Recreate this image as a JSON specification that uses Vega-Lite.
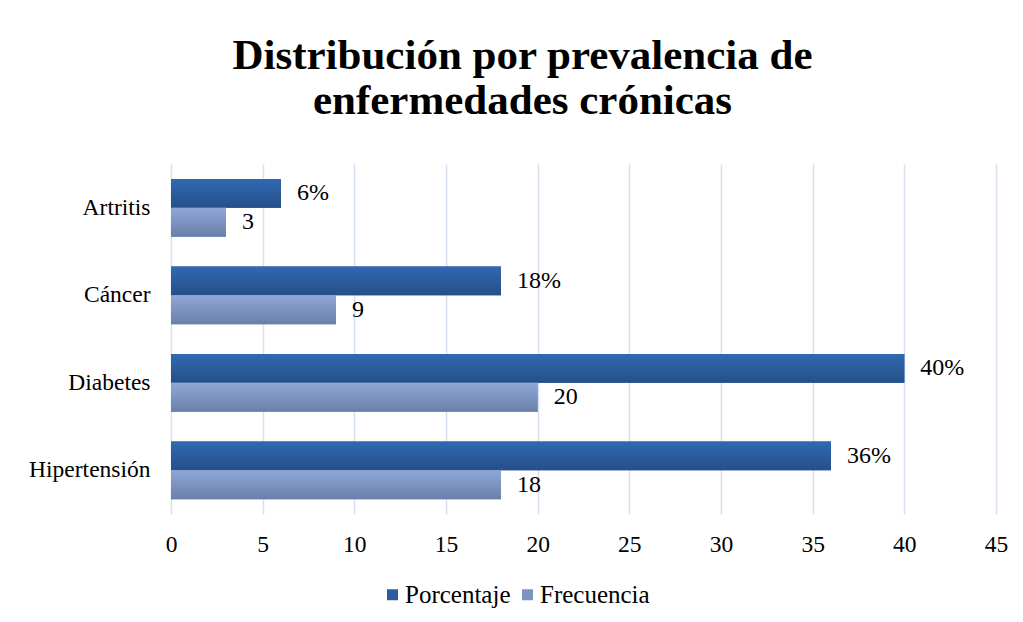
{
  "$schema": "https://vega.github.io/schema/vega-lite/v6.json",
  "width": 825,
  "height": 350,
  "autosize": {"type": "none"},
  "padding": {"left": 171, "top": 164, "right": 27, "bottom": 108},
  "background": "white",
  "config": {"view": {"stroke": null}},
  "title": {
    "text": ["Distribución por prevalencia de", "enfermedades crónicas"],
    "font": "Liberation Serif",
    "fontSize": 43,
    "fontWeight": "bold",
    "color": "black",
    "lineHeight": 45,
    "anchor": "middle",
    "dx": -61,
    "offset": 41
  },
  "data": {
    "values": [
      {"cat": "Artritis", "serie": "Porcentaje", "value": 6, "label": "6%"},
      {"cat": "Artritis", "serie": "Frecuencia", "value": 3, "label": "3"},
      {"cat": "Cáncer", "serie": "Porcentaje", "value": 18, "label": "18%"},
      {"cat": "Cáncer", "serie": "Frecuencia", "value": 9, "label": "9"},
      {"cat": "Diabetes", "serie": "Porcentaje", "value": 40, "label": "40%"},
      {"cat": "Diabetes", "serie": "Frecuencia", "value": 20, "label": "20"},
      {"cat": "Hipertensión", "serie": "Porcentaje", "value": 36, "label": "36%"},
      {"cat": "Hipertensión", "serie": "Frecuencia", "value": 18, "label": "18"}
    ]
  },
  "encoding": {
    "y": {
      "field": "cat", "type": "nominal", "sort": null, "title": null,
      "scale": {"paddingInner": 0.34, "paddingOuter": 0.17},
      "axis": {"domain": false, "ticks": false, "labelFont": "Liberation Serif", "labelFontSize": 23.5, "labelColor": "black", "labelPadding": 21}
    },
    "yOffset": {"field": "serie", "type": "nominal", "scale": {"domain": ["Porcentaje", "Frecuencia"], "paddingInner": 0, "paddingOuter": 0}},
    "x": {
      "field": "value", "type": "quantitative", "title": null,
      "scale": {"domain": [0, 45], "nice": false},
      "axis": {"values": [0, 5, 10, 15, 20, 25, 30, 35, 40, 45], "domain": false, "ticks": false, "grid": true, "gridColor": "#d5e0f0", "gridWidth": 1.5, "labelFlush": false, "labelFont": "Liberation Serif", "labelFontSize": 23.5, "labelColor": "black", "labelPadding": 18}
    }
  },
  "layer": [
    {
      "mark": {"type": "bar"},
      "encoding": {
        "color": {
          "field": "serie", "type": "nominal",
          "scale": {"domain": ["Porcentaje", "Frecuencia"], "range": ["#2c5e9f", "#7d93c0"]},
          "legend": {"title": null, "orient": "none", "legendX": 209, "legendY": 418, "direction": "horizontal", "symbolType": "square", "symbolSize": 121, "symbolStrokeWidth": 0, "labelFont": "Liberation Serif", "labelFontSize": 25, "labelColor": "black", "columnPadding": 4, "labelOffset": 0}
        }
      }
    },
    {
      "transform": [{"filter": "datum.serie == 'Porcentaje'"}],
      "mark": {"type": "bar", "color": {"gradient": "linear", "x1": 0, "y1": 0, "x2": 0, "y2": 1, "stops": [{"offset": 0, "color": "#3169b2"}, {"offset": 1, "color": "#254f89"}]}}
    },
    {
      "transform": [{"filter": "datum.serie == 'Frecuencia'"}],
      "mark": {"type": "bar", "color": {"gradient": "linear", "x1": 0, "y1": 0, "x2": 0, "y2": 1, "stops": [{"offset": 0, "color": "#8fa8d8"}, {"offset": 1, "color": "#6a7fa8"}]}}
    },
    {
      "mark": {"type": "text", "align": "left", "baseline": "middle", "dx": 16, "font": "Liberation Serif", "fontSize": 24, "color": "black"},
      "encoding": {"text": {"field": "label"}}
    }
  ]
}
